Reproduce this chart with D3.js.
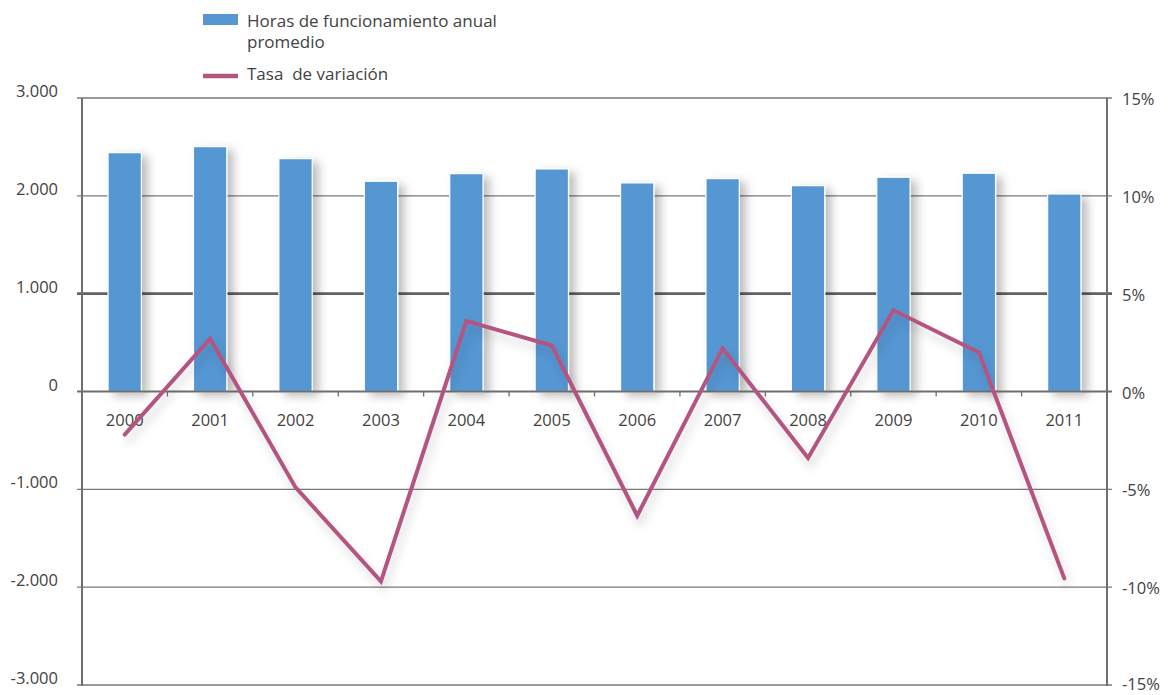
<!DOCTYPE html>
<html>
<head>
<meta charset="utf-8">
<script src="https://cdn.jsdelivr.net/npm/d3@7/dist/d3.min.js"></script>
<style>
  html, body { margin: 0; padding: 0; background: #fff; }
  svg { display: block; font-family: "Open Sans", "Noto Sans", sans-serif; }
</style>
</head>
<body>
<svg id="chart" width="1170" height="695"></svg>
<script>
// Años y series
const years = ["2000","2001","2002","2003","2004","2005","2006","2007","2008","2009","2010","2011"];
const horas = [2441, 2503, 2380, 2149, 2227, 2275, 2132, 2176, 2104, 2190, 2231, 2019];
const tasa = [-2.2, 2.7, -4.9, -9.7, 3.6, 2.35, -6.35, 2.2, -3.4, 4.15, 2.0, -9.55];
const leftTicks = [-3000, -2000, -1000, 0, 1000, 2000, 3000];
const rightTicks = [-15, -10, -5, 0, 5, 10, 15];
const legendLabels = [["Horas de funcionamiento anual", "promedio"], ["Tasa  de variación"]];

(function () {
const BLUE = "#5597d3";
const PINK = "#b45581";
const AXIS = "#6f6f6f";
const TEXT = "#424242";

const svg = d3.select("#chart");
const pLeft = 82, pRight = 1107, pTop = 98, pBottom = 685;

const x = d3.scaleBand().domain(years).range([pLeft, pRight]).padding(0);
const yL = d3.scaleLinear().domain([-3000, 3000]).range([pBottom, pTop]);
const yR = d3.scaleLinear().domain([-15, 15]).range([pBottom, pTop]);

// Sombras suaves
const defs = svg.append("defs");
const sh = defs.append("filter").attr("id", "shadow")
  .attr("x", "-40%").attr("y", "-10%").attr("width", "200%").attr("height", "130%");
sh.append("feDropShadow").attr("dx", 6).attr("dy", 4).attr("stdDeviation", 5)
  .attr("flood-color", "#000").attr("flood-opacity", 0.26);
const shl = defs.append("filter").attr("id", "lineShadow")
  .attr("x", "-10%").attr("y", "-10%").attr("width", "120%").attr("height", "130%");
shl.append("feDropShadow").attr("dx", 3).attr("dy", 7).attr("stdDeviation", 5)
  .attr("flood-color", "#000").attr("flood-opacity", 0.16);

// Líneas de cuadrícula
svg.append("g").selectAll("line")
  .data(leftTicks.filter(d => d !== 0))
  .join("line")
  .attr("x1", pLeft - 5).attr("x2", pRight + 5)
  .attr("y1", d => yL(d)).attr("y2", d => yL(d))
  .attr("stroke", d => d === 1000 ? "#626262" : "#7a7a7a")
  .attr("stroke-width", d => d === 1000 ? 2.6 : 1.4);

// Barras
svg.append("g").selectAll("rect")
  .data(years.map((y, i) => ({ y, v: horas[i] })))
  .join("rect")
  .attr("x", d => x(d.y) + x.bandwidth() * 0.305)
  .attr("width", x.bandwidth() * 0.39)
  .attr("y", d => yL(d.v))
  .attr("height", d => yL(0) - yL(d.v))
  .attr("fill", BLUE)
  .attr("stroke", "#fff")
  .attr("stroke-width", 1.2)
  .attr("filter", "url(#shadow)");

// Eje horizontal en cero con marcas entre categorías
svg.append("line")
  .attr("x1", pLeft - 5).attr("x2", pRight + 5)
  .attr("y1", yL(0)).attr("y2", yL(0))
  .attr("stroke", AXIS).attr("stroke-width", 2);
svg.append("g").selectAll("line")
  .data(years.slice(1))
  .join("line")
  .attr("x1", d => x(d)).attr("x2", d => x(d))
  .attr("y1", yL(0)).attr("y2", yL(0) + 5)
  .attr("stroke", AXIS).attr("stroke-width", 1.3);

// Ejes verticales
svg.append("line").attr("x1", pLeft).attr("x2", pLeft)
  .attr("y1", pTop).attr("y2", pBottom + 1)
  .attr("stroke", AXIS).attr("stroke-width", 2);
svg.append("line").attr("x1", pRight).attr("x2", pRight)
  .attr("y1", pTop).attr("y2", pBottom + 1)
  .attr("stroke", AXIS).attr("stroke-width", 2);

// Etiquetas de años
svg.append("g").selectAll("text")
  .data(years)
  .join("text")
  .attr("x", d => x(d) + x.bandwidth() / 2)
  .attr("y", yL(0) + 34)
  .attr("text-anchor", "middle")
  .attr("font-size", 16.5)
  .attr("fill", TEXT)
  .text(d => d);

// Etiquetas del eje izquierdo
const fmt = d3.formatLocale({ decimal: ",", thousands: ".", grouping: [3], currency: ["", ""] }).format(",");
svg.append("g").selectAll("text")
  .data(leftTicks)
  .join("text")
  .attr("x", 58)
  .attr("y", d => yL(d) - 1)
  .attr("text-anchor", "end")
  .attr("font-size", 16.5)
  .attr("fill", TEXT)
  .text(d => fmt(d).replace("−", "-"));

// Etiquetas del eje derecho
svg.append("g").selectAll("text")
  .data(rightTicks)
  .join("text")
  .attr("x", 1122)
  .attr("y", d => Math.min(yR(d) + 7, 690))
  .attr("text-anchor", "start")
  .attr("font-size", 16.5)
  .attr("fill", TEXT)
  .text(d => d + "%");

// Línea de tasa de variación
const line = d3.line()
  .x((d, i) => x(years[i]) + x.bandwidth() / 2)
  .y(d => yR(d));
svg.append("path")
  .datum(tasa)
  .attr("d", line)
  .attr("fill", "none")
  .attr("stroke", PINK)
  .attr("stroke-width", 4)
  .attr("stroke-linejoin", "miter")
  .attr("stroke-linecap", "round")
  .attr("filter", "url(#lineShadow)");

// Leyenda
const lg = svg.append("g");
lg.append("rect").attr("x", 203).attr("y", 14).attr("width", 35).attr("height", 11).attr("fill", BLUE);
lg.append("text").attr("x", 247).attr("y", 27).attr("font-size", 17).attr("fill", TEXT)
  .selectAll("tspan").data(legendLabels[0]).join("tspan")
  .attr("x", 247).attr("dy", (d, i) => i === 0 ? 0 : 21).text(d => d);
lg.append("line").attr("x1", 203).attr("x2", 238).attr("y1", 76).attr("y2", 76)
  .attr("stroke", PINK).attr("stroke-width", 4.5);
lg.append("text").attr("x", 247).attr("y", 80).attr("font-size", 17).attr("fill", TEXT)
  .style("white-space", "pre")
  .text(legendLabels[1][0]);
})();
</script>
</body>
</html>
